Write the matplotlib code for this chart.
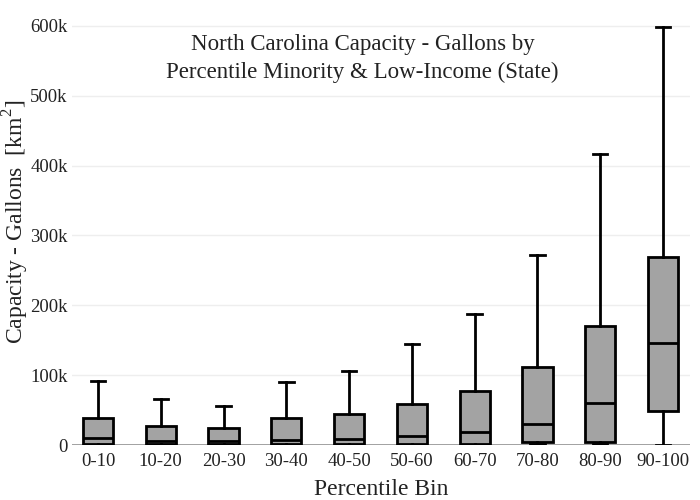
import matplotlib
matplotlib.use('Agg')
import matplotlib.pyplot as plt
from matplotlib.ticker import FuncFormatter

plt.rcParams['font.family'] = ['Liberation Serif', 'DejaVu Serif']
plt.rcParams['mathtext.fontset'] = 'custom'
plt.rcParams['mathtext.rm'] = 'Liberation Serif'

# Box statistics (gallons)
bins = ['0-10', '10-20', '20-30', '30-40', '40-50',
        '50-60', '60-70', '70-80', '80-90', '90-100']
whisker_low = [0, 0, 0, 0, 0, 0, 0, 1000, 1000, 0]
q1 = [1000, 1000, 1000, 1000, 1000, 2000, 1500, 4000, 5000, 48000]
median = [9600, 6000, 5700, 7000, 8000, 12400, 18600, 30000, 60000, 146000]
q3 = [38000, 27000, 24000, 38000, 45000, 59000, 77000, 112000, 171000, 269000]
whisker_high = [91000, 66000, 56000, 90000, 106000, 144000, 187000, 272000, 417000, 599000]

stats = []
for i in range(len(bins)):
    stats.append(dict(label=bins[i], whislo=whisker_low[i], q1=q1[i], med=median[i],
                      q3=q3[i], whishi=whisker_high[i], fliers=[]))

fig = plt.figure(figsize=(7, 5), dpi=100)
ax = fig.add_axes([72 / 700, 0.11, (690 - 72) / 700, 0.852])

ax.bxp(stats, positions=range(len(bins)), widths=0.48, patch_artist=True,
       showfliers=False,
       boxprops=dict(facecolor='#a3a3a3', edgecolor='black', linewidth=2),
       medianprops=dict(color='black', linewidth=2),
       whiskerprops=dict(color='black', linewidth=2),
       capprops=dict(color='black', linewidth=2),
       capwidths=0.23)

ax.set_xlim(-0.414, 9.43)
ax.set_ylim(0, 610000)
ax.set_yticks([0, 100000, 200000, 300000, 400000, 500000, 600000])
ax.yaxis.set_major_formatter(FuncFormatter(lambda v, p: '0' if v == 0 else '%dk' % (v / 1000)))
ax.grid(axis='y', color='#eeeeee', linewidth=1)
ax.set_axisbelow(True)
for s in ['top', 'right', 'left', 'bottom']:
    ax.spines[s].set_visible(False)
ax.axhline(0, color='#999999', linewidth=2, zorder=1)
ax.tick_params(axis='y', length=0, labelsize=13.5, colors='#222222', pad=3)
ax.tick_params(axis='x', length=0, labelsize=13.5, colors='#222222', pad=6)

ax.set_xlabel('Percentile Bin', fontsize=17, color='#222222', labelpad=6)
fig.text(16 / 700, 1 - 222 / 500, 'Capacity - Gallons  [km$^2$]', rotation=90,
         ha='center', va='center', fontsize=17, color='#222222')

ax.text(0.47, 0.965, 'North Carolina Capacity - Gallons by\nPercentile Minority & Low-Income (State)',
        transform=ax.transAxes, ha='center', va='top', fontsize=16.5, color='#222222',
        linespacing=1.4)

fig.savefig('out.png', dpi=100)
